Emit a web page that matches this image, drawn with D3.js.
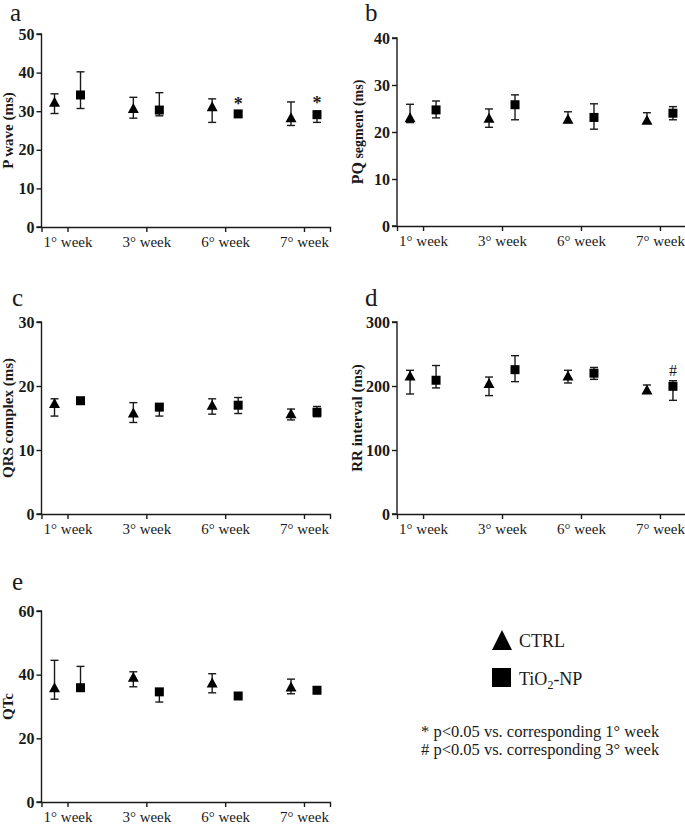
<!DOCTYPE html>
<html>
<head>
<meta charset="utf-8">
<script src="https://cdn.jsdelivr.net/npm/d3@7"></script>
<style>
  body { margin: 0; background: #fff; }
  svg, svg text { font-family: "Liberation Serif", "Times New Roman", serif; }
</style>
</head>
<body>
<svg id="chart" width="685" height="825"></svg>
<script>
var weeks = ['1° week', '3° week', '6° week', '7° week'];

// [mean, lower, upper] per week
var pWaveCtrl = [[32.2, 29.4, 34.5], [30.6, 28.2, 33.6], [31.0, 27.1, 33.2], [28.2, 26.3, 32.4]];
var pWaveTio  = [[34.2, 30.7, 40.2], [30.3, 28.8, 34.8], [29.3, 28.7, 29.9], [29.1, 27.1, 30.0]];
var pWaveMarks = [null, null, '*', '*'];

var pqCtrl = [[22.9, 22.0, 25.9], [22.8, 21.0, 24.9], [22.6, 22.0, 24.3], [22.4, 21.9, 24.1]];
var pqTio  = [[24.7, 23.0, 26.6], [25.8, 22.6, 27.9], [23.1, 20.6, 26.0], [24.0, 22.6, 25.4]];

var qrsCtrl = [[17.2, 15.3, 18.0], [15.7, 14.3, 17.4], [16.9, 15.6, 18.0], [15.6, 14.7, 16.4]];
var qrsTio  = [[17.7, 17.4, 18.0], [16.7, 15.3, 17.2], [17.0, 15.7, 18.2], [15.9, 15.2, 16.8]];

var rrCtrl = [[215, 187.5, 224.5], [203, 185, 214], [215, 204.7, 224.5], [193, 190, 201.6]];
var rrTio  = [[209, 197, 232], [225.5, 206.8, 247.4], [220, 210.4, 229], [199.5, 177.6, 208.3]];
var rrMarks = [null, null, null, '#'];

var qtcCtrl = [[35.7, 32.3, 44.5], [39.0, 36.2, 40.9], [37.2, 34.3, 40.3], [36.0, 34.0, 38.6]];
var qtcTio  = [[35.9, 35.0, 42.6], [34.6, 31.4, 35.3], [33.3, 32.8, 33.8], [35.1, 34.6, 35.6]];

var svg = d3.select('#chart');
var ink = '#1a1a1a';
var serif = '"Liberation Serif", "Times New Roman", serif';

function scalesFor(opt) {
  return {
    x: d3.scalePoint().domain(weeks).range([opt.left, opt.right]).padding(0.33),
    y: d3.scaleLinear().domain([0, opt.max]).range([opt.bottom, opt.top])
  };
}

function drawPanel(opt) {
  var g = svg.append('g');
  var s0 = scalesFor(opt), x = s0.x, y = s0.y;

  g.append('text')
    .attr('x', opt.letterX).attr('y', opt.letterY)
    .style('font-size', '25px').attr('fill', ink)
    .text(opt.letter);

  var yAxis = g.append('g')
    .attr('transform', 'translate(' + opt.left + ',0)')
    .call(d3.axisLeft(y).tickValues(d3.range(0, opt.max + 1, opt.step)).tickSize(5).tickPadding(2));
  yAxis.attr('font-family', serif).attr('font-size', null);
  yAxis.selectAll('text').style('font-size', '16px').style('font-weight', 'bold').attr('fill', ink);

  var xAxis = g.append('g')
    .attr('transform', 'translate(0,' + opt.bottom + ')')
    .call(d3.axisBottom(x).tickSize(5).tickPadding(4));
  xAxis.attr('font-family', serif).attr('font-size', null);
  xAxis.selectAll('text').style('font-size', '15px').attr('fill', ink);

  [yAxis, xAxis].forEach(function(a) {
    a.select('.domain').attr('stroke', ink).attr('stroke-width', 1.4);
    a.selectAll('.tick line').attr('stroke', ink).attr('stroke-width', 1.4);
  });
  yAxis.select('.domain').attr('d', 'M-5,' + y(opt.max) + 'H0V' + y(0) + 'H-5');

  var lab = g.append('text')
    .attr('transform', 'translate(' + opt.labelX + ',' + ((opt.top + opt.bottom) / 2) + ') rotate(-90)')
    .attr('text-anchor', 'middle')
    .style('font-size', '15px').style('font-weight', 'bold').attr('fill', ink);
  opt.label.forEach(function(p) {
    lab.append('tspan').style('font-size', p[1]).text(p[0]);
  });

  var series = [
    { data: opt.ctrl, dx: -13, shape: 'tri' },
    { data: opt.tio, dx: 13, shape: 'sq' }
  ];
  series.forEach(function(s) {
    var pts = g.selectAll(null).data(s.data).enter().append('g')
      .attr('transform', function(d, i) { return 'translate(' + (x(weeks[i]) + s.dx) + ',0)'; });
    pts.append('line')
      .attr('y1', function(d) { return y(d[1]); })
      .attr('y2', function(d) { return y(d[2]); })
      .attr('stroke', ink).attr('stroke-width', 1.4);
    [2, 1].forEach(function(k) {
      pts.append('line')
        .attr('x1', -4).attr('x2', 4)
        .attr('y1', function(d) { return y(d[k]); })
        .attr('y2', function(d) { return y(d[k]); })
        .attr('stroke', ink).attr('stroke-width', 1.4);
    });
    if (s.shape === 'tri') {
      pts.append('path')
        .attr('d', function(d) { var c = y(d[0]); return 'M0,' + (c - 6) + 'L5.5,' + (c + 4) + 'L-5.5,' + (c + 4) + 'Z'; })
        .attr('fill', '#000');
    } else {
      pts.append('rect')
        .attr('x', -4.5).attr('width', 9).attr('height', 9)
        .attr('y', function(d) { return y(d[0]) - 4.5; })
        .attr('fill', '#000');
    }
  });
}

function drawMarks(opt, marks) {
  var s0 = scalesFor(opt);
  marks.forEach(function(m, i) {
    if (!m) return;
    svg.append('text')
      .attr('x', s0.x(weeks[i]) + 13)
      .attr('y', s0.y(opt.tio[i][2]) - (m === '*' ? 2 : 5))
      .attr('text-anchor', 'middle')
      .attr('fill', ink)
      .style('font-size', m === '*' ? '18px' : '16px')
      .style('font-weight', m === '*' ? 'bold' : 'normal')
      .text(m);
  });
}

var panels = [
  { letter: 'a', letterX: 10, letterY: 21, left: 41.5, right: 330, top: 34, bottom: 227, max: 50, step: 10,
    labelX: 13, label: [['P wave (ms)', '15px']], ctrl: pWaveCtrl, tio: pWaveTio },
  { letter: 'b', letterX: 365, letterY: 21, left: 397, right: 686, top: 38, bottom: 226, max: 40, step: 10,
    labelX: 363, label: [['PQ', '16px'], [' segment (ms)', '14px']], ctrl: pqCtrl, tio: pqTio },
  { letter: 'c', letterX: 12, letterY: 306, left: 41.5, right: 330, top: 322, bottom: 514, max: 30, step: 10,
    labelX: 13, label: [['QRS complex (ms)', '15px']], ctrl: qrsCtrl, tio: qrsTio },
  { letter: 'd', letterX: 365, letterY: 306, left: 397, right: 686, top: 322, bottom: 514, max: 300, step: 100,
    labelX: 362, label: [['RR interval (ms)', '15px']], ctrl: rrCtrl, tio: rrTio },
  { letter: 'e', letterX: 12, letterY: 590, left: 41.5, right: 330, top: 611, bottom: 802, max: 60, step: 20,
    labelX: 13, label: [['QTc', '15px']], ctrl: qtcCtrl, tio: qtcTio }
];

panels.forEach(drawPanel);
drawMarks(panels[0], pWaveMarks);
drawMarks(panels[3], rrMarks);

// legend
var leg = svg.append('g');
leg.append('path').attr('d', 'M502,630L512,650L492,650Z').attr('fill', '#000');
leg.append('text').attr('x', 519).attr('y', 647).style('font-size', '18px').attr('fill', ink).text('CTRL');
leg.append('rect').attr('x', 492).attr('y', 668).attr('width', 19).attr('height', 19).attr('fill', '#000');
var tio = leg.append('text').attr('x', 519).attr('y', 685).style('font-size', '18px').attr('fill', ink);
tio.append('tspan').text('TiO');
tio.append('tspan').attr('dy', 4).style('font-size', '12px').text('2');
tio.append('tspan').attr('dy', -4).text('-NP');

var notes = ['* p<0.05 vs. corresponding 1° week', '# p<0.05 vs. corresponding 3° week'];
svg.selectAll('.note').data(notes).enter().append('text')
  .attr('class', 'note')
  .attr('x', 421)
  .attr('y', function(d, i) { return 737 + i * 18; })
  .style('font-size', '16.5px')
  .attr('fill', ink)
  .text(function(d) { return d; });
</script>
</body>
</html>
